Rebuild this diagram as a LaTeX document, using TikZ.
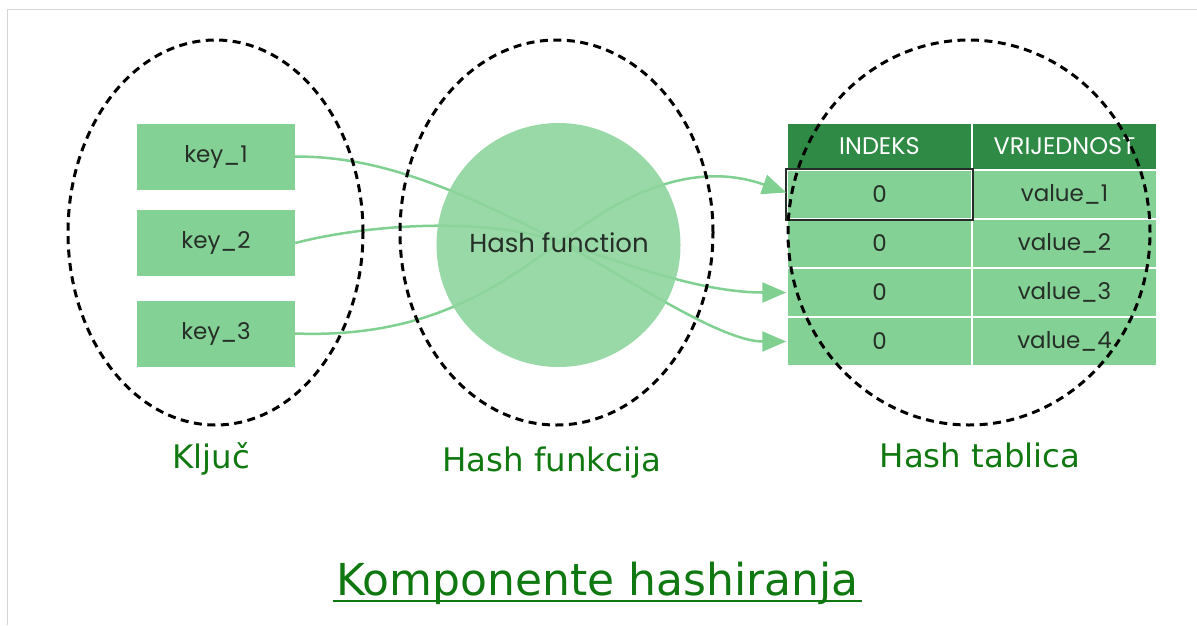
\documentclass[tikz,border=0pt]{standalone}
\usepackage{fontspec}
\setmainfont{DejaVu Sans}
\newfontfamily\boxfont{Poppins}
\usetikzlibrary{arrows.meta,shapes.geometric}

\definecolor{keyfill}{RGB}{131,209,148}
\definecolor{hashfill}{RGB}{142,213,157}
\definecolor{headfill}{RGB}{47,138,69}
\definecolor{flowcol}{RGB}{128,208,146}
\definecolor{inktext}{RGB}{38,46,40}
\definecolor{labelgreen}{RGB}{16,120,16}
\definecolor{framegray}{RGB}{212,212,212}

\begin{document}
\begin{tikzpicture}[x=1pt,y=-1pt,
  boxtext/.style={font=\boxfont\fontsize{23}{27}\selectfont, text=inktext},
  keybox/.style={rectangle, fill=keyfill, minimum width=158pt, minimum height=66pt,
    inner sep=0pt, boxtext},
  hashball/.style={circle, fill=hashfill, fill opacity=0.9, text opacity=1,
    minimum size=244pt, inner sep=0pt, boxtext},
  cell/.style={rectangle, fill=keyfill, draw=white, line width=1.5pt,
    minimum width=185pt, minimum height=49pt, inner sep=0pt, boxtext},
  headcell/.style={cell, fill=headfill, minimum height=47pt, text=white,
    font=\boxfont\fontsize{24}{28}\selectfont},
  zone/.style={ellipse, draw=black, line width=3pt, dash pattern=on 8pt off 5.5pt,
    inner sep=0pt},
  zonelabel/.style={font=\fontsize{32.4}{38}\selectfont, text=labelgreen, anchor=base},
  flow/.style={draw=flowcol, line width=2.5pt,
    -{Triangle[length=24pt,width=20pt]}},
]
\useasboundingbox (0,0) rectangle (1197,625);

% page frame
\draw[framegray, line width=1.5pt] (7,9.5) -- (1197,9.5);
\draw[framegray, line width=1.5pt] (7.5,9.5) -- (7.5,625);

% keys
\node[keybox] (k1) at (216,156.5) {key\_1};
\node[keybox] (k2) at (216,243) {key\_2};
\node[keybox] (k3) at (216,333.5) {key\_3};

% hash table
\node[headcell] (hidx) at (879.5,146.5) {INDEKS};
\node[headcell] (hval) at (1064.5,146.5) {VRIJEDNOST};
\node[cell] (i1) at (879.5,194.5) {0};
\node[cell] (v1) at (1064.5,194.5) {value\_1};
\node[cell] (i2) at (879.5,243.5) {0};
\node[cell] (v2) at (1064.5,243.5) {value\_2};
\node[cell] (i3) at (879.5,292.5) {0};
\node[cell] (v3) at (1064.5,292.5) {value\_3};
\node[cell] (i4) at (879.5,341.5) {0};
\node[cell] (v4) at (1064.5,341.5) {value\_4};
\draw[inktext, line width=2.2pt] (i1.north west) rectangle (i1.south east);

% mappings through the hash function
\coordinate (hub) at (560,242);
\draw[flow] (k1.east) .. controls +(75,0) and +(-120,-62) .. (hub)
  .. controls +(60,31) and +(-67,0) .. (i4.west);
\draw[flow] (k2.east) .. controls +(65,-17) and +(-80,-27) .. (hub)
  .. controls +(60,20) and +(-87,0) .. (i3.west);
\draw[flow] (k3.east) .. controls +(135,5) and +(-60,43) .. (hub)
  .. controls +(40,-29) and +(-107,-38) .. ([yshift=2pt]i1.west);

% hash function
\node[hashball] (hf) at (558.5,245) {};
\node[boxtext, font=\boxfont\fontsize{26}{30}\selectfont] (hflabel) at (559,243) {Hash function};

% groups
\node[zone, minimum width=295pt, minimum height=385pt] (keyzone) at (215.5,232.5) {};
\node[zone, minimum width=313pt, minimum height=385pt] (hashzone) at (556.5,232.5) {};
\node[zone, minimum width=362pt, minimum height=385pt] (tablezone) at (969,232.5) {};

\node[zonelabel] (keylabel) at (211,468) {Ključ};
\node[zonelabel] (hashlabel) at (552,471) {Hash funkcija};
\node[zonelabel] (tablelabel) at (980,467) {Hash tablica};

% caption
\node[font=\fontsize{44}{50}\selectfont, text=labelgreen, anchor=base] (title)
  at (597.5,595) {Komponente hashiranja};
\draw[labelgreen, line width=2pt] ([yshift=-6pt]title.base west) -- ([yshift=-6pt]title.base east);
\end{tikzpicture}
\end{document}
